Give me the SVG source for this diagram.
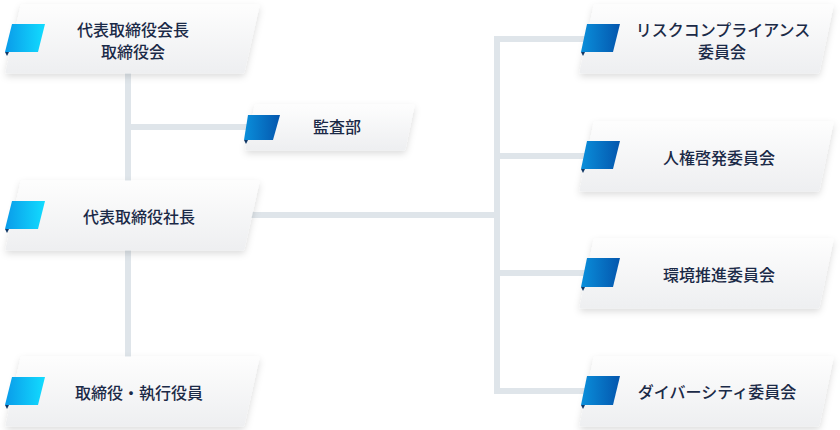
<svg xmlns="http://www.w3.org/2000/svg" width="840" height="430" viewBox="0 0 840 430">
<defs>
<style>
.line{stroke:#dfe5ea;stroke-width:6;fill:none}
.card{fill:url(#cardg);stroke:url(#cardg);stroke-width:3;stroke-linejoin:round;filter:url(#sh)}
.tagL{fill:url(#tagl)}
.tagR{fill:url(#tagr)}
.fold{fill:#0f3766}
.t{font-family:"Noto Sans CJK JP","Noto Sans",sans-serif;font-size:16px;font-weight:500;fill:#1b2a47;text-anchor:middle}
</style>
<linearGradient id="cardg" x1="0" y1="0" x2="0" y2="1">
<stop offset="0" stop-color="#fdfdfd"/>
<stop offset="1" stop-color="#eeeff1"/>
</linearGradient>
<linearGradient id="tagl" x1="0" y1="0" x2="1" y2="0">
<stop offset="0" stop-color="#0a9be9"/>
<stop offset="1" stop-color="#12dcff"/>
</linearGradient>
<linearGradient id="tagr" x1="0" y1="0" x2="1" y2="0">
<stop offset="0" stop-color="#0a8fdb"/>
<stop offset="1" stop-color="#0456ad"/>
</linearGradient>
<filter id="sh" x="-10%" y="-20%" width="120%" height="150%">
<feDropShadow dx="0" dy="3" stdDeviation="3.5" flood-color="#000" flood-opacity="0.14"/>
</filter>
</defs>
<g id="connectors">
<path class="line" d="M128,60 V370"/>
<path class="line" d="M128,127 H252"/>
<path class="line" d="M240,215 H497"/>
<path class="line" d="M497,36 V394"/>
<path class="line" d="M497,39 H590"/>
<path class="line" d="M497,156 H590"/>
<path class="line" d="M497,273 H590"/>
<path class="line" d="M497,391 H590"/>
</g>
<g id="node-chairman">
<polygon class="card" points="22,6 258,6 243,72 7,72"/>
<polygon class="tagL" points="12,24 45,24 38,52 5,52"/>
<polygon class="fold" points="5,52 9,52 7,56"/>
<text class="t" x="133" y="36">代表取締役会長</text>
<text class="t" x="133" y="58">取締役会</text>
</g>
<g id="node-audit">
<polygon class="card" points="256,106 413,106 404,149 247,149"/>
<polygon class="tagR" points="248,115 280,115 273,140 244,140"/>
<polygon class="fold" points="244,140 248,140 246,144"/>
<text class="t" x="337" y="133">監査部</text>
</g>
<g id="node-president">
<polygon class="card" points="22,182 258,182 243,249 7,249"/>
<polygon class="tagL" points="12,201 45,201 38,229 5,229"/>
<polygon class="fold" points="5,229 9,229 7,233"/>
<text class="t" x="139" y="223">代表取締役社長</text>
</g>
<g id="node-directors">
<polygon class="card" points="22,358 258,358 243,425 7,425"/>
<polygon class="tagL" points="12,377 45,377 38,405 5,405"/>
<polygon class="fold" points="5,405 9,405 7,409"/>
<text class="t" x="139" y="399">取締役・執行役員</text>
</g>
<g id="node-compliance">
<polygon class="card" points="595,6 832,6 818,72 581,72"/>
<polygon class="tagR" points="587,24 620,24 613,52 581,52"/>
<polygon class="fold" points="581,52 585,52 583,56"/>
<text class="t" x="723" y="36">リスクコンプライアンス</text>
<text class="t" x="722" y="58">委員会</text>
</g>
<g id="node-humanrights">
<polygon class="card" points="595,123 832,123 818,190 581,190"/>
<polygon class="tagR" points="587,141 620,141 613,169 581,169"/>
<polygon class="fold" points="581,169 585,169 583,173"/>
<text class="t" x="719" y="164">人権啓発委員会</text>
</g>
<g id="node-environment">
<polygon class="card" points="595,240 832,240 818,307 581,307"/>
<polygon class="tagR" points="587,258 620,258 613,287 581,287"/>
<polygon class="fold" points="581,287 585,287 583,291"/>
<text class="t" x="719" y="281">環境推進委員会</text>
</g>
<g id="node-diversity">
<polygon class="card" points="595,358 832,358 818,425 581,425"/>
<polygon class="tagR" points="587,376 620,376 613,405 581,405"/>
<polygon class="fold" points="581,405 585,405 583,409"/>
<text class="t" x="717" y="398">ダイバーシティ委員会</text>
</g>
</svg>
